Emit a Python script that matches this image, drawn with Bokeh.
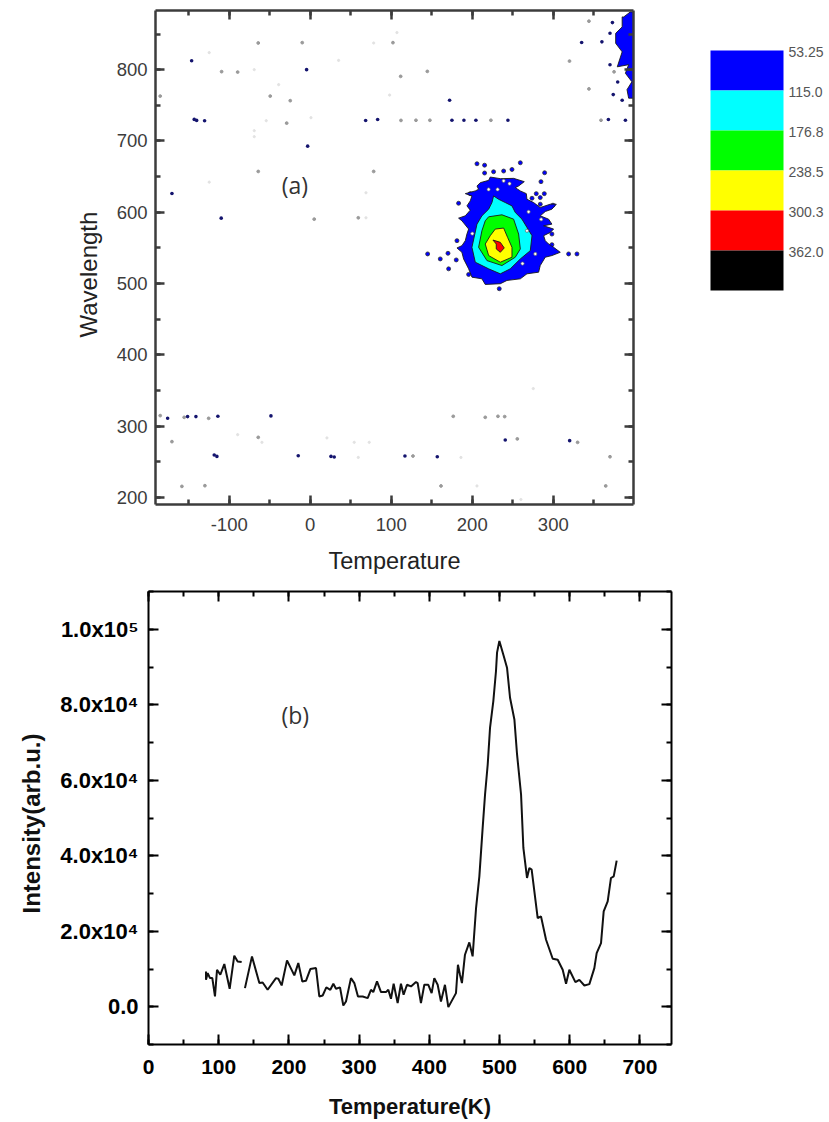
from bokeh.plotting import figure
from bokeh.layouts import column, row
from bokeh.models import LinearAxis, SingleIntervalTicker, Range1d, Title
from bokeh.core.properties import value
from bokeh.embed import file_html
from bokeh.resources import INLINE

# ---------- panel (a): contour outlines (temperature, wavelength)
blue_t = [205.8,209.9,220.2,222.2,234.6,251,264.2,257.2,253.1,259.3,266.7,267.5,275.7,283.9,296.3,303.7,298.3,290.1,283.9,294.2,298.3,288.1,300.4,296.3,288.1,290.1,294.2,300.4,308.6,298.3,290.1,283.9,281.9,267.5,259.3,242.8,234.6,216,211.9,199.6,195.5,189.3,187.2,181.1,187.2,191.4,193.4,195.5,187.2,183.1,191.4,197.5,193.4,197.5,199.6,191.4,203.7,207.8]
blue_w = [636.8,641.5,644.7,649.4,647.1,647.5,642.9,636.8,634.5,629.9,626.1,618.2,613.6,606.6,611.3,611.3,604.3,601,594.9,590.3,583.3,581,576.4,571.7,567.1,560.1,555.4,550.8,543.8,539.2,536.9,525.2,515.9,513.6,506.6,504.3,499.7,498.7,506.6,508.9,520.6,534.5,543.8,549.9,553.1,560.1,569.4,576.4,588,591.7,595,602.9,608.9,615.9,622.9,626.1,629.9,632.2]
cyan_t = [226.3,232.5,240.7,249,253.1,261.3,267.5,273.7,271.6,259.3,246.9,234.6,220.2,203.7,199.6,205.8,211.9,220.2,224.3]
cyan_w = [622.9,618.2,613.6,608.9,599.6,590.3,578.7,567.1,546.1,534.5,520.6,513.6,520.6,529.9,550.8,583.3,595,604.3,613.6]
green_t = [220.2,236.6,251,257.2,259.3,253.1,236.6,218.1,207.8,211.9,216]
green_w = [593.6,596.4,590.3,569.4,548.5,536.9,525.2,532.2,550.8,574,588]
yellow_t = [228.4,238.7,243.6,249,249,234.6,220.2,216,222.2]
yellow_w = [576.4,577.8,564.7,550.8,536.9,529.9,539.2,555.4,567.1]
red_t = [225.5,234.6,239.5,234.6,229.6,229.6]
red_w = [561,557.8,549.9,543.8,548.5,555.4]
edge_t = [387,395,399,399,393,391,397,389,393,379,385,377,377,385,385]
edge_w = [874,881,881,760,760,772,783,795,807,804,825,837,851,860,874]

# isolated spots around the blob
blob_dot_t = [205.8,215.2,215.2,226.3,238.7,249,259.3,289.3,284.8,288.9,279,273.7,283.9,283.9,299.6,298.3,298.3,318.9,329.2,144.9,170,160.5,180.2,170.8,195.5,233.3,181.1,183.1,197.5,277.8]
blob_dot_w = [668,666,655,656.8,657.8,660,669.4,655.4,642.9,626.1,626.1,619.6,620.5,611.3,609.9,569.4,554.5,541.5,541.5,541.5,542.4,534.5,533.1,520.6,512.7,492.7,560.1,612.6,626.1,526.6]
hole_t = [220.2,231.3,238.7,269.5,267.5,277.8,200,246,285,262]
hole_w = [632,632,644,600.6,574,541.5,570,640,590,528]

# dark, grey and faint specks over the rest of the map
dark_t = [-146.4,-143.2,-140.2,-130.4,-170.7,-109.9,-4.5,-3.2,68.4,83.2,-176,-151.4,-141.1,-114,-48.5,-118.5,-115.2,-14.8,25.6,29.6,240.7,320.2,116.9,156.8,174.9,204.5,244,389,368,373,370,335,360,370,379.5,374,385,172,189.7]
dark_w = [812.6,730.2,728.8,728.4,626.3,591.7,800,692.7,728.8,730.2,310.9,313.3,313.3,313.7,314.3,259.5,257.5,258.5,257.5,256.7,280.5,279.6,258,257.1,729,729,729,729,730,866,851,838,839,807,782.6,765,757,757,729]
grey_t = [112,-9.9,-64.2,102.1,-109.4,-89.6,111.6,-185.2,-49.4,-24.7,-29.1,-64.2,78.3,4.9,59.3,-185.2,-155.6,-125.4,-64.2,-170.7,-158.4,-130,176.5,216,231.7,240,255.6,330,126.8,161.4,364.7,370,130.5,147.7,223,358.9,144.5,320,344,375,344]
grey_w = [728.8,837.9,837.4,837.9,797.2,796.6,790.6,762.9,762.9,756.5,725,657.2,657.2,590.3,592.2,314.7,312.3,310.9,284.2,278.2,215.4,216.4,313.7,312.3,313.7,313.3,282,277.2,258,216,216,257,729,729,729,729,797.6,812,773,797,868]
faint_t = [-124.7,78.3,-69.1,-39,98,107,35,-54.3,0.9,-69.1,-69.1,-124.7,68.8,68.8,-59.6,20.6,-89.6,54.3,72.8,59.3,275.3,186,205.8,260]
faint_w = [823.9,837.4,800,779,764.4,852,813,728.4,732.6,714.4,706,642.2,627.3,592.2,277.2,283.4,288,277.2,277.2,256,352.6,256,216,197]

x_tick_labels_a = {-100: "-100", 0: "0", 100: "100", 200: "200", 300: "300"}

# colour scale
scale_colors = ["#0000ff","#00ffff","#00ff00","#ffff00","#ff0000","#000000"]
scale_labels = ["53.25","115.0","176.8","238.5","300.3","362.0"]

# ---------- panel (b): intensity curve with a small break near 135 K
t1 = [81.9,81.9,84.3,87.6,90.9,94.7,97.6,102.3,108,115.6,122.2,127,132.7]
i1 = [9360,7150,8920,7590,7590,2730,9800,8480,11310,4760,13520,12010,11840]
t2 = [137.4,147.4,157.9,162.6,169.7,181.6,184.9,189.7,197.3,207.7,213.4,219.1,224.3,230.5,238.6,243.3,248.1,253.3,259,263.3,267.1,272.8,277.5,281.3,288.4,293.2,298.4,305.1,312.2,316.9,320.2,325.5,331.2,338.3,341.6,345.4,349.2,354.9,359.6,363.4,368.2,373.9,381,383.4,388.1,392.9,398.6,403.3,407.1,411.9,416.6,422.3,427.1,438,440.8,443.7,446.5,450.8,457,461.7,466.6,471.3,476,479.4,483.2,486.5,491.2,495,496.5,499.8,506,510.7,515,521.2,525,530.7,534,539.2,542.5,545.8,554.4,559.1,566.3,575.8,582.9,590,594.8,599.5,608.1,613.7,620.9,628,635.1,638.4,644.6,648.4,654.1,658.8,662.7,666.9]
i2 = [4940,13340,6270,6440,4500,7590,7420,5650,12280,8300,11570,6710,6880,9980,10240,2730,2990,5120,4500,6090,4760,5120,340,1400,7590,6270,2730,2730,2290,4500,3880,6710,3880,3880,4500,2110,6090,960,6090,3170,5820,5380,6530,6270,960,5820,5820,3610,7590,5820,1400,5820,-100,3610,11130,8480,6270,13780,17050,13340,26150,34550,47380,56220,64170,73900,80980,88940,93800,96890,92910,89820,81860,76110,66830,56220,42070,34110,36760,36320,23500,23940,17750,12710,12440,9790,6080,9790,6520,7140,5630,6000,10240,14210,16870,25270,27920,34110,34550,38710]
x_tick_labels_b = ["0","100","200","300","400","500","600","700"]
y_ticks_b = [0,20000,40000,60000,80000,100000]
y_tick_labels_b = ["0.0","2.0x10⁴","4.0x10⁴","6.0x10⁴","8.0x10⁴","1.0x10⁵"]

SANS = "Liberation Sans"
INK_A = "#3c3c3c"


def style_axis(ax, color, width, in_major, in_minor, interval, font_size=None, bold=False):
    ax.ticker = SingleIntervalTicker(interval=interval, num_minor_ticks=2)
    ax.axis_line_color = color
    ax.axis_line_width = width
    ax.major_tick_line_color = color
    ax.minor_tick_line_color = color
    ax.major_tick_line_width = width
    ax.minor_tick_line_width = width
    ax.major_tick_in = in_major
    ax.major_tick_out = 0
    ax.minor_tick_in = in_minor
    ax.minor_tick_out = 0
    if font_size:
        ax.major_label_text_font = SANS
        ax.major_label_text_font_size = font_size
        ax.major_label_text_color = color
        ax.major_label_text_font_style = "bold" if bold else "normal"


def mirror(p, side, color, width, in_major, in_minor, interval):
    ax = LinearAxis()
    style_axis(ax, color, width, in_major, in_minor, interval)
    ax.major_label_text_font_size = "0px"
    ax.major_label_standoff = 0
    ax.major_label_text_color = None
    p.add_layout(ax, side)


# ---------- (a)
pa = figure(width=678, height=578, x_range=Range1d(-191, 399), y_range=Range1d(190, 883),
            output_backend="svg", toolbar_location=None,
            min_border_left=155, min_border_right=45, min_border_top=10, min_border_bottom=74)
pa.grid.visible = False
pa.outline_line_color = None
style_axis(pa.xaxis[0], INK_A, 2.5, 9, 5, 100, "18.5px")
style_axis(pa.yaxis[0], INK_A, 2.5, 9, 5, 100, "18.5px")
pa.xaxis[0].major_label_overrides = x_tick_labels_a
pa.xaxis[0].axis_label = "Temperature"
ax = pa.xaxis[0]
ax.axis_label_text_font = SANS
ax.axis_label_text_font_size = "23.5px"
ax.axis_label_text_font_style = "normal"
ax.axis_label_text_color = "#222222"
pa.xaxis[0].major_label_standoff = 13
pa.yaxis[0].major_label_standoff = 8
pa.xaxis[0].axis_label_standoff = 14
mirror(pa, "right", INK_A, 2.5, 9, 5, 100)
mirror(pa, "above", INK_A, 2.5, 9, 5, 100)
pa.add_layout(Title(text="Wavelength", align="left", offset=167, standoff=23,
                    text_font=SANS, text_font_size="24px", text_font_style="normal",
                    text_color="#222222"), "left")

pa.scatter(faint_t, faint_w, size=2.2, color="#e2e2e2")
pa.scatter(grey_t, grey_w, size=2.8, color="#9a9a9a")
pa.scatter(dark_t, dark_w, size=3.6, fill_color="#14146e", line_color=None)
pa.scatter(blob_dot_t, blob_dot_w, size=4, fill_color="#0000ff", line_color="#333333", line_width=0.8)
for xs, ys, c in [(edge_t, edge_w, "#0000ff"), (blue_t, blue_w, "#0000ff"), (cyan_t, cyan_w, "#00ffff"),
                  (green_t, green_w, "#00ff00"), (yellow_t, yellow_w, "#ffff00"), (red_t, red_w, "#ff0000")]:
    pa.patch(xs, ys, fill_color=c, line_color="#1a1a1a", line_width=0.9)
pa.scatter(hole_t, hole_w, size=3.2, fill_color="#ffffff", line_color="#666666", line_width=0.7)
pa.text([-19], [638], text=["(a)"], text_font=value("Open Sans"), text_font_size="23px",
        text_align="center", text_baseline="middle", text_color="#333333")

# ---------- colour scale (its frame lines up with panel (a)'s, page rows 10 to 504)
pc = figure(width=151, height=578, x_range=Range1d(678, 829), y_range=Range1d(504, 10),
            output_backend="svg", toolbar_location=None,
            min_border=0, outline_line_color=None)
pc.axis.visible = False
pc.grid.visible = False
band_top = [50 + 40 * i for i in range(len(scale_colors))]
pc.quad(left=710, right=783, top=band_top, bottom=[b + 40 for b in band_top],
        fill_color=scale_colors, line_color=None)
pc.text([788] * len(scale_labels), [b + 1.5 for b in band_top], text=scale_labels, text_font=value(SANS),
        text_font_size="14px", text_baseline="middle", text_color="#555555")

# ---------- (b)
pb = figure(width=700, height=543, x_range=Range1d(0, 745), y_range=Range1d(-10000, 110000),
            output_backend="svg", toolbar_location=None,
            min_border_left=148, min_border_right=29, min_border_top=13, min_border_bottom=77)
pb.grid.visible = False
pb.outline_line_color = None
style_axis(pb.xaxis[0], "#000000", 2, 10, 5, 100, "21px", True)
style_axis(pb.yaxis[0], "#000000", 2, 10, 5, 20000, "22px", True)
pb.xaxis[0].major_label_overrides = {100 * i: s for i, s in enumerate(x_tick_labels_b)}
pb.yaxis[0].major_label_overrides = dict(zip(y_ticks_b, y_tick_labels_b))
pb.xaxis[0].axis_label = "Temperature(K)"
ax = pb.xaxis[0]
ax.axis_label_text_font = SANS
ax.axis_label_text_font_size = "22px"
ax.axis_label_text_font_style = "bold"
ax.axis_label_text_color = "#111111"
pb.xaxis[0].major_label_standoff = 15
pb.yaxis[0].major_label_standoff = 10
pb.xaxis[0].axis_label_standoff = 17
mirror(pb, "right", "#000000", 2, 10, 5, 20000)
mirror(pb, "above", "#000000", 2, 10, 5, 100)
pb.add_layout(Title(text="Intensity(arb.u.)", align="left", offset=131, standoff=21, vertical_align="top",
                    text_font=SANS, text_font_size="24px", text_font_style="bold",
                    text_color="#111111"), "left")
pb.line(t1, i1, line_color="#111111", line_width=2)
pb.line(t2, i2, line_color="#111111", line_width=2)
pb.text([209], [77200], text=["(b)"], text_font=value("Open Sans"), text_font_size="23px",
        text_align="center", text_baseline="middle", text_color="#333333")

page = column(row(pa, pc), pb)
open("out.html", "w").write(file_html(page, INLINE))
